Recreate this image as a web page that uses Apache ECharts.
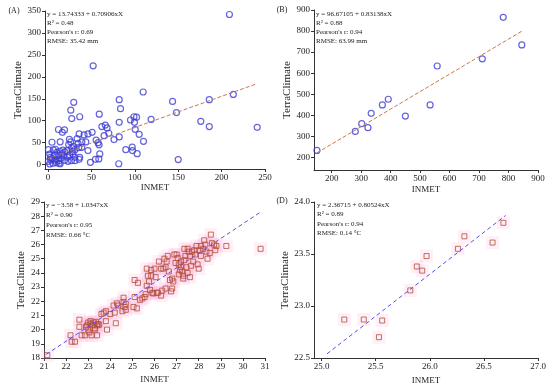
<!DOCTYPE html>
<html><head><meta charset="utf-8">
<script src="https://cdn.jsdelivr.net/npm/echarts@6/dist/echarts.min.js"></script>
<style>html,body{margin:0;padding:0;background:#fff}#c{width:550px;height:390px}</style>
</head><body><div id="c"></div>
<script>
// ---------- DATA ----------
const pointsA = [[209,342],[52,225],[29.6,142],[26.2,124],[36.5,109],[27.3,105],[59,115],[82,148],[83.5,127.5],[109.6,165.5],[143.5,144],[148,118.5],[185.8,148],[213.5,160],[12,80],[19,79],[16.5,73.6],[4.6,51],[14,52],[24.6,57.7],[35.8,70],[41.5,67.6],[46,70],[50.8,73.6],[62,86.6],[66,90],[68,83.5],[64.6,66],[70,71.4],[82,96.4],[95,101.7],[99,109],[102,108],[99.6,96.4],[100.4,80.5],[105,69],[110,53],[118.8,103],[176,98.7],[185.8,86.6],[241,85],[76,57],[82,63],[89.6,34],[97,40],[97.3,32],[102.7,25],[81.5,2],[150,11.4],[58.8,45],[59.6,24.3],[58.5,13],[54.6,12],[48.8,5.3],[55.4,56],[57.7,50],[46,32],[39,51.6],[43.5,51.6],[34.6,48.6],[35.4,38.7],[38.8,39.5],[36.5,16.7],[35.8,12],[29.6,41],[27.3,38.7],[28,29.6],[28.8,24.3],[23.8,45.6],[21.9,31.9],[19.2,28.9],[22.3,16.7],[23,7.6],[27,9],[30.8,16.7],[31,9],[13.5,30.4],[15.8,25],[12,21],[15,13.7],[10.4,12],[7,21],[6,33.4],[8.5,35],[0.4,34],[2,24],[2.7,16.7],[0.4,7.6],[2,1.5],[5.8,3],[9.6,4.5],[12.7,3],[12.7,9],[7.7,10.6],[4.6,13.7],[18,19.7],[19,10],[33.5,59],[17,33],[10,28],[25,22],[14,2],[3,11],[31,34],[26,52]];
const pointsB = [[150,233],[280,323],[302,360],[323,341],[334,409],[372,449],[392,476],[450,396],[534,449],[558,634],[711,668],[782,865],[845,734]];
const pointsC = [[21.15,18.2],[22.2,19.6],[22.25,19.15],[22.4,19.15],[22.6,20.7],[22.6,20.2],[22.7,19.6],[22.85,19.6],[22.9,20.2],[23.0,20.5],[23.0,20.0],[23.05,19.8],[23.1,20.4],[23.15,19.6],[23.2,20.3],[23.25,20.5],[23.3,20.1],[23.35,20.55],[23.4,20.3],[23.45,20.4],[23.5,20.35],[23.4,19.6],[23.1,20.6],[22.95,20.3],[23.3,20.0],
[23.6,21.1],[23.7,21.2],[23.8,21.3],[23.8,20.6],[23.85,20.0],[24.0,21.1],[24.15,21.7],[24.2,21.2],[24.25,20.45],[24.3,21.85],[24.35,21.7],[24.55,21.3],[24.6,22.25],[24.6,21.95],[24.65,21.6],[24.7,21.4],[24.7,21.8],
[25.05,21.6],[25.1,22.3],[25.1,23.5],[25.2,21.5],[25.25,23.3],[25.35,22.1],[25.45,22.2],[25.55,22.3],[25.6,22.5],[25.65,23.1],[25.65,24.3],[25.7,23.8],[25.75,23.4],[25.8,22.8],[25.85,24.2],[25.85,23.8],[25.9,22.6],[25.95,22.55],[26.0,24.3],[26.05,23.7],[26.1,22.6],[26.15,22.6],
[26.2,24.8],[26.3,24.3],[26.3,22.4],[26.35,22.75],[26.4,24.3],[26.45,25.0],[26.5,22.9],[26.5,24.4],[26.55,24.8],[26.6,25.2],[26.65,24.1],[26.7,23.5],[26.75,22.7],[26.8,23.6],[26.8,22.9],[26.85,23.4],[26.9,25.3],[26.95,24.7],[27.0,25.3],[27.05,25.05],[27.1,24.6],[27.1,23.9],[27.15,24.2],
[27.2,24.8],[27.2,24.4],[27.25,24.1],[27.3,23.8],[27.3,23.6],[27.35,24.9],[27.35,25.7],[27.4,25.2],[27.45,24.4],[27.5,25.7],[27.5,24.0],[27.55,25.5],[27.6,23.7],[27.6,25.2],[27.65,24.5],[27.7,25.5],[27.75,24.8],[27.8,25.6],[27.85,25.3],[27.9,25.9],[27.95,24.6],[28.0,24.3],[28.05,25.6],[28.1,25.9],[28.1,25.2],[28.2,25.7],[28.25,26.3],[28.3,26.0],[28.35,25.5],[28.4,25.0],[28.5,25.4],[28.55,26.7],[28.6,26.1],[28.7,26.0],[28.75,25.6],[28.8,25.9],[29.25,25.9],[30.8,25.7]];
const pointsD = [[25.21,22.87],[25.39,22.87],[25.56,22.86],[25.53,22.70],[25.82,23.15],[25.88,23.38],[25.93,23.34],[25.97,23.48],[26.26,23.55],[26.32,23.67],[26.58,23.61],[26.68,23.80]];
const fitA = [[0,13.74],[240,183.9]];
const fitB = [[150,221.4],[845,799.2]];
const fitC = [[21.1,18.25],[30.8,28.29]];
const fitD = [[25.05,22.54],[26.7,23.87]];
// tick labels
const ticksAx = [0,50,100,150,200,250];
const ticksAy = [0,50,100,150,200,250,300,350];
const ticksB = [200,300,400,500,600,700,800,900];
const ticksCx = [21,22,23,24,25,26,27,28,29,30,31];
const ticksCy = [18,19,20,21,22,23,24,25,26,27,28,29];
const ticksDx = [25.0,25.5,26.0,26.5,27.0];
const ticksDy = [22.5,23.0,23.5,24.0];
// annotation texts
const statsA = ['y = 13.74333 + 0.70906xX','R\u00b2 = 0.48',"Pearson's r: 0.69",'RMSE: 35.42 mm'];
const statsB = ['y = 96.67105 + 0.83138xX','R\u00b2 = 0.88',"Pearson's r: 0.94",'RMSE: 63.99 mm'];
const statsC = ['y = \u22123.58 + 1.0347xX','R\u00b2 = 0.90',"Pearson's r: 0.95",'RMSE: 0.66 \u00b0C'];
const statsD = ['y = 2.36715 + 0.80524xX','R\u00b2 = 0.89',"Pearson's r: 0.94",'RMSE: 0.14 \u00b0C'];
const panelLabels = ['(A)','(B)','(C)','(D)'];
const xName = 'INMET', yName = 'TerraClimate';

// ---------- CHART ----------
const F = "'Liberation Serif','Times New Roman',serif";
const AX = '#333', TX = '#222';
function xAxis(gi, min, max, ticks, fmt, gap) {
  return {type:'value', gridIndex:gi, min, max, name:xName, nameLocation:'middle', nameGap:gap,
    nameTextStyle:{fontFamily:F, fontSize:9, color:TX},
    axisLine:{show:true, onZero:false, lineStyle:{color:AX, width:1}},
    axisTick:{show:true, inside:false, length:3, customValues:ticks, lineStyle:{color:AX}},
    axisLabel:{customValues:ticks, formatter:fmt, fontFamily:F, fontSize:9, color:TX, margin:4},
    splitLine:{show:false}};
}
function yAxis(gi, min, max, ticks, fmt, gap) {
  return {type:'value', gridIndex:gi, min, max, name:yName, nameLocation:'middle', nameGap:gap,
    nameTextStyle:{fontFamily:F, fontSize:11, color:TX},
    axisLine:{show:true, onZero:false, lineStyle:{color:AX, width:1}},
    axisTick:{show:true, inside:false, length:3, customValues:ticks, lineStyle:{color:AX}},
    axisLabel:{customValues:ticks, formatter:fmt, fontFamily:F, fontSize:9, color:TX, margin:4},
    splitLine:{show:false}};
}
const f0 = v => String(Math.round(v));
const f1 = v => Number(v).toFixed(1);
const circ = (gi, data) => ({type:'scatter', xAxisIndex:gi, yAxisIndex:gi, data, symbol:'circle', symbolSize:6,
  itemStyle:{color:'rgba(255,255,255,0)', borderColor:'#3d3dd4', borderWidth:1.2}, z:3});
const glow = (gi, data) => ({type:'scatter', xAxisIndex:gi, yAxisIndex:gi, data, symbol:'rect', symbolSize:13,
  itemStyle:{color:'rgba(255,170,215,0.22)', borderWidth:0}, z:1, silent:true});
const sq = (gi, data) => ({type:'scatter', xAxisIndex:gi, yAxisIndex:gi, data, symbol:'rect', symbolSize:5,
  itemStyle:{color:'rgba(255,255,255,0)', borderColor:'#b24e3a', borderWidth:1}, z:3});
const fit = (gi, data, color, dash) => ({type:'line', xAxisIndex:gi, yAxisIndex:gi, data, symbol:'none',
  lineStyle:{color, width:1, type:dash}, z:4, silent:true});

const texts = [];
function addStats(lines, x, y0, dy) {
  lines.forEach((t,i)=>texts.push({type:'text', x, y:y0+i*dy, style:{text:t, fontFamily:F, fontSize:7, fill:TX, textVerticalAlign:'middle'}}));
}
addStats(statsA, 47, 14, 8.9);
addStats(statsB, 316, 14, 9);
addStats(statsC, 46, 205, 10);
addStats(statsD, 317, 205.5, 9.1);
[[14,11],[282,10],[13,202],[282,201]].forEach((p,i)=>texts.push({type:'text', x:p[0], y:p[1],
  style:{text:panelLabels[i], fontFamily:F, fontSize:8, fill:TX, textAlign:'center', textVerticalAlign:'middle'}}));

const option = {
  animation:false,
  backgroundColor:'#fff',
  grid:[
    {left:45, top:11, width:220, height:158},
    {left:314, top:10, width:224, height:160},
    {left:44, top:202, width:221, height:156},
    {left:314, top:202, width:224, height:156}
  ],
  xAxis:[
    xAxis(0, -3.5, 250, ticksAx, f0, 14),
    xAxis(1, 140, 900, ticksB, f0, 15),
    xAxis(2, 21, 31, ticksCx, f0, 17),
    xAxis(3, 24.93, 27, ticksDx, f1, 18)
  ],
  yAxis:[
    yAxis(0, -10, 350, ticksAy, f0, 20),
    yAxis(1, 140, 900, ticksB, f0, 16),
    yAxis(2, 18, 29, ticksCy, f0, 14),
    yAxis(3, 22.5, 24, ticksDy, f1, 19)
  ],
  series:[
    circ(0, pointsA), fit(0, fitA, '#c8784e', [4,2]),
    circ(1, pointsB), fit(1, fitB, '#c8784e', [4,2]),
    glow(2, pointsC), sq(2, pointsC), fit(2, fitC, '#5050ee', [4,3]),
    glow(3, pointsD), sq(3, pointsD), fit(3, fitD, '#5050ee', [4,3])
  ],
  graphic: texts
};
const chart = echarts.init(document.getElementById('c'), null, {renderer:'canvas'});
chart.setOption(option);
</script>
</body></html>
